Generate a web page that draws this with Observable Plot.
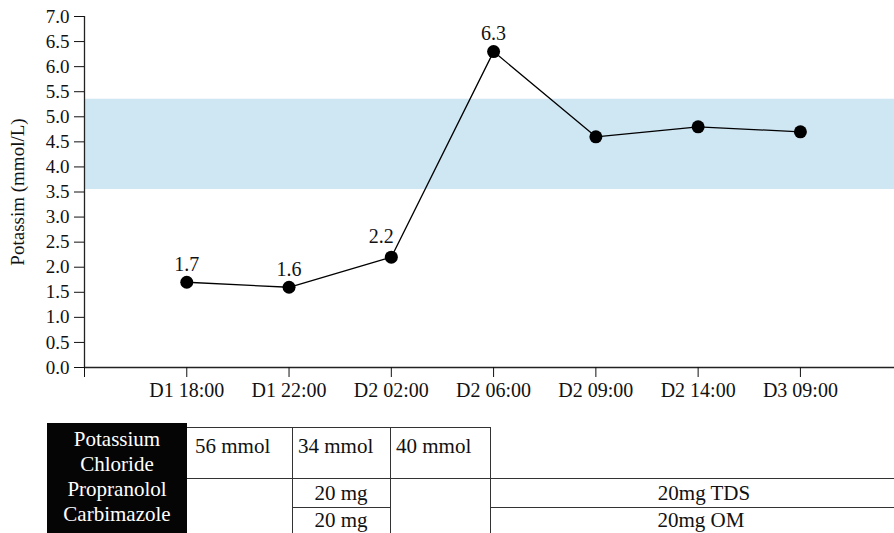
<!DOCTYPE html>
<html><head><meta charset="utf-8">
<script src="https://cdn.jsdelivr.net/npm/d3@7"></script>
<script src="https://cdn.jsdelivr.net/npm/@observablehq/plot@0.6"></script>
<style>
body{margin:0;background:#fff;font-family:"Liberation Serif",serif;}
#wrap{position:relative;width:894px;height:533px;overflow:hidden;background:#fff;}
#wrap svg{position:absolute;left:0;top:0;}
.cell{position:absolute;box-sizing:border-box;font-family:"Liberation Serif",serif;font-size:21px;color:#111;white-space:nowrap;line-height:26px;height:26px;}
.hl{position:absolute;height:0;border-top:1.5px solid #333;}
.vl{position:absolute;width:0;border-left:1.5px solid #333;}
#box{position:absolute;background:#050505;color:#fff;text-align:center;font-family:"Liberation Serif",serif;font-size:21px;line-height:25px;box-sizing:border-box;}
</style></head><body><div id="wrap"></div>
<script>
const timeLabels = ["D1 18:00","D1 22:00","D2 02:00","D2 06:00","D2 09:00","D2 14:00","D3 09:00"];
const potassium = [1.7, 1.6, 2.2, 6.3, 4.6, 4.8, 4.7];
const showLabel = [true, true, true, true, false, false, false];
const normalRange = [3.55, 5.35];
const yTicks = [0,0.5,1,1.5,2,2.5,3,3.5,4,4.5,5,5.5,6,6.5,7];
const xTicks = [0,1,2,3,4,5,6,7];

const drugNames = ["Potassium", "Chloride", "Propranolol", "Carbimazole"];
const kclDoses = ["56 mmol", "34 mmol", "40 mmol"];
const propranololDoses = ["20 mg", "20mg TDS"];
const carbimazoleDoses = ["20 mg", "20mg OM"];

const data = potassium.map((k, j) => ({i: j + 1, k, t: timeLabels[j], lab: showLabel[j]}));
const labelled = data.filter(d => d.lab);

const chart = Plot.plot({
  width: 894, height: 410,
  marginLeft: 84, marginRight: 0, marginTop: 16, marginBottom: 43,
  style: {fontFamily: "Liberation Serif, serif", fontSize: "19px", color: "#111", background: "transparent"},
  x: {type: "linear", domain: [0, 7.92]},
  y: {domain: [0, 7]},
  marks: [
    Plot.rect([{lo: normalRange[0], hi: normalRange[1]}], {y1: "lo", y2: "hi", fill: "#cfe6f3"}),
    Plot.ruleY([0], {stroke: "#222", strokeWidth: 1.3}),
    Plot.ruleX([0], {y1: 0, y2: 7, stroke: "#222", strokeWidth: 1.3}),
    Plot.axisX({ticks: xTicks, tickFormat: i => timeLabels[i - 1] ?? "", tickSize: 10, tickPadding: 5, label: null, fontSize: 20}),
    Plot.axisY({ticks: yTicks, tickFormat: d3.format(".1f"), tickSize: 10, tickPadding: 5, fontSize: 19,
      label: "Potassim (mmol/L)", labelAnchor: "center", labelOffset: 74, labelArrow: "none"}),
    Plot.line(data, {x: "i", y: "k", stroke: "#000", strokeWidth: 1.3}),
    Plot.dot(data, {x: "i", y: "k", r: 6.5, fill: "#000"}),
    Plot.text(labelled.filter(d => d.i !== 3), {x: "i", y: "k", text: d => d.k.toFixed(1), dy: -18, fontSize: 20, fill: "#111"}),
    Plot.text(labelled.filter(d => d.i === 3), {x: "i", y: "k", text: d => d.k.toFixed(1), dy: -21, dx: -10, fontSize: 20, fill: "#111"})
  ]
});
const wrap = document.getElementById("wrap");
wrap.appendChild(chart);
// y-axis label font size
chart.querySelectorAll("text").forEach(t => { if (t.textContent === "Potassim (mmol/L)") t.setAttribute("font-size", 19); });

// table under the chart
function add(cls, style, text) {
  const el = document.createElement("div");
  el.className = cls;
  Object.assign(el.style, style);
  if (text != null) el.textContent = text;
  wrap.appendChild(el);
  return el;
}
const box = add("", {left: "47px", top: "423px", width: "140px", height: "120px", paddingTop: "4px"});
box.id = "box";
box.innerHTML = drugNames.join("<br>");

add("hl", {left: "187px", top: "427px", width: "303px"});
add("hl", {left: "187px", top: "478px", width: "707px"});
add("hl", {left: "292px", top: "507px", width: "98px"});
add("hl", {left: "490px", top: "507px", width: "404px"});
add("vl", {left: "292px", top: "427px", height: "110px"});
add("vl", {left: "390px", top: "427px", height: "110px"});
add("vl", {left: "490px", top: "427px", height: "110px"});

add("cell", {left: "195px", top: "433px"}, kclDoses[0]);
add("cell", {left: "298px", top: "433px"}, kclDoses[1]);
add("cell", {left: "396px", top: "433px"}, kclDoses[2]);
add("cell", {left: "292px", top: "480px", width: "98px", textAlign: "center"}, propranololDoses[0]);
add("cell", {left: "292px", top: "507px", width: "98px", textAlign: "center"}, carbimazoleDoses[0]);
add("cell", {left: "500px", top: "480px", width: "408px", textAlign: "center"}, propranololDoses[1]);
add("cell", {left: "500px", top: "507px", width: "402px", textAlign: "center"}, carbimazoleDoses[1]);
</script></body></html>
